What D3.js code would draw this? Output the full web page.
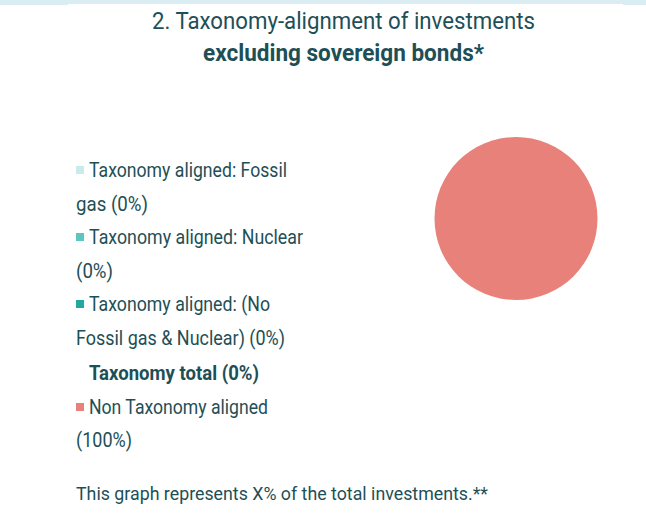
<!DOCTYPE html>
<html><head><meta charset="utf-8">
<script src="https://cdn.jsdelivr.net/npm/d3@7"></script>
<style>body{margin:0;background:#fff;} svg{display:block;}</style>
</head><body>
<script>
const categories = ["Taxonomy aligned: Fossil gas", "Taxonomy aligned: Nuclear", "Taxonomy aligned: (No Fossil gas & Nuclear)", "Non Taxonomy aligned"];
const values = [0, 0, 0, 100];
const colors = ["#c9ebec", "#5ec6c1", "#1fa8a0", "#e7817a"];
const legendLines = [
  ["Taxonomy aligned: Fossil", "gas (0%)"],
  ["Taxonomy aligned: Nuclear", "(0%)"],
  ["Taxonomy aligned: (No", "Fossil gas & Nuclear) (0%)"],
  ["Non Taxonomy aligned", "(100%)"]
];
const totalLabel = "Taxonomy total (0%)";
const titleLines = ["2. Taxonomy-alignment of investments", "excluding sovereign bonds*"];
const footnote = "This graph represents X% of the total investments.**";

const W = 646, H = 517;
const txt = "#1e4f56";
const svg = d3.select("body").append("svg").attr("width", W).attr("height", H);

// top band
svg.append("rect").attr("x",0).attr("y",0).attr("width",W).attr("height",5).attr("fill","#d9edf3");
svg.append("rect").attr("x",68).attr("y",4).attr("width",555).attr("height",1).attr("fill","#ffffff");

function put(sel, target){
  sel.attr("textLength", target).attr("lengthAdjust","spacingAndGlyphs");
}

// title
const t1 = svg.append("text").attr("x",343.5).attr("y",29).attr("text-anchor","middle")
  .attr("font-family","Roboto").attr("font-size",24).attr("fill",txt).text(titleLines[0]);
put(t1, 383);
const t2 = svg.append("text").attr("x",343.5).attr("y",61).attr("text-anchor","middle")
  .attr("font-family","Roboto").attr("font-weight","bold").attr("font-size",24).attr("fill",txt).text(titleLines[1]);
put(t2, 281);

// legend
const baselines = [[177,211],[244,278],[311,345],[414,447]];
const widths = [[198,72],[214,37],[181,209],[179,56]];
const fs = 21;
const legend = svg.append("g").attr("font-family","Roboto").attr("font-size",fs).attr("fill",txt);
categories.forEach((c,i)=>{
  const [b1,b2] = baselines[i];
  legend.append("rect").attr("x",76).attr("y",b1-11).attr("width",8).attr("height",8).attr("fill",colors[i]);
  const a = legend.append("text").attr("x",89).attr("y",b1).text(legendLines[i][0]);
  put(a, widths[i][0]);
  const b = legend.append("text").attr("x",76).attr("y",b2).text(legendLines[i][1]);
  put(b, widths[i][1]);
});
const tt = legend.append("text").attr("x",89).attr("y",380).attr("font-weight","bold").text(totalLabel);
put(tt, 170);

// footnote
const fn = svg.append("text").attr("x",76).attr("y",500).attr("font-family","Roboto").attr("font-size",19).attr("fill",txt).text(footnote);
put(fn, 412);

// pie
const pie = d3.pie().sort(null).value(d=>d)(values);
const arc = d3.arc().innerRadius(0).outerRadius(81.5);
svg.append("g").attr("transform","translate(516,218.5)")
  .selectAll("path").data(pie).join("path")
  .attr("d",arc).attr("fill",(d,i)=>colors[i]);
</script>
</body></html>
